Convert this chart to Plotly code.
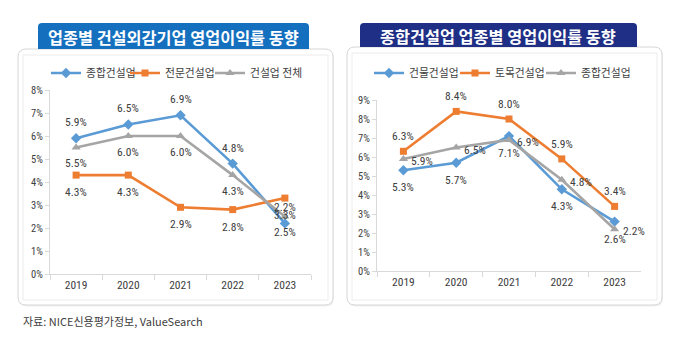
import plotly.graph_objects as go

W, H = 680, 346

years = ["2019", "2020", "2021", "2022", "2023"]

# 업종별 건설외감기업 영업이익률 (%)
general_contractors = [5.9, 6.5, 6.9, 4.8, 2.2]      # 종합건설업
specialty_contractors = [4.3, 4.3, 2.9, 2.8, 3.3]    # 전문건설업
all_construction = [5.5, 6.0, 6.0, 4.3, 2.5]         # 건설업 전체

# 종합건설업 업종별 영업이익률 (%)
building = [5.3, 5.7, 7.1, 4.3, 2.6]                 # 건물건설업
civil = [6.3, 8.4, 8.0, 5.9, 3.4]                    # 토목건설업
general_total = [5.9, 6.5, 6.9, 4.8, 2.2]            # 종합건설업

left_y_ticks = list(range(0, 9))
right_y_ticks = list(range(0, 10))

BLUE = "#5b9bd5"
ORANGE = "#ed7d31"
GRAY = "#a5a5a5"
TXT = "#404040"
KR = "Noto Sans CJK KR"
NUM = "Liberation Sans Narrow, Roboto Condensed, Noto Sans CJK KR, sans-serif"


def px(x):
    return x / W


def py(y):
    return 1 - y / H


def rounded_path(x0, y0, x1, y1, r):
    # rounded rectangle given in pixels, emitted in paper coordinates
    pts = [
        f"M {px(x0 + r)},{py(y0)}",
        f"L {px(x1 - r)},{py(y0)}",
        f"Q {px(x1)},{py(y0)} {px(x1)},{py(y0 + r)}",
        f"L {px(x1)},{py(y1 - r)}",
        f"Q {px(x1)},{py(y1)} {px(x1 - r)},{py(y1)}",
        f"L {px(x0 + r)},{py(y1)}",
        f"Q {px(x0)},{py(y1)} {px(x0)},{py(y1 - r)}",
        f"L {px(x0)},{py(y0 + r)}",
        f"Q {px(x0)},{py(y0)} {px(x0 + r)},{py(y0)}",
        "Z",
    ]
    return " ".join(pts)


def top_rounded_path(x0, y0, x1, y1, r):
    pts = [
        f"M {px(x0)},{py(y1)}",
        f"L {px(x0)},{py(y0 + r)}",
        f"Q {px(x0)},{py(y0)} {px(x0 + r)},{py(y0)}",
        f"L {px(x1 - r)},{py(y0)}",
        f"Q {px(x1)},{py(y0)} {px(x1)},{py(y0 + r)}",
        f"L {px(x1)},{py(y1)}",
        "Z",
    ]
    return " ".join(pts)


fig = go.Figure()
annotations = []
legends = {}

label_font = dict(family=NUM, size=11.5, color=TXT)


def add_series(x_ax, y_ax, legend, legend_x, name, vals, color, symbol, msize, dx, dy):
    fig.add_trace(go.Scatter(
        x=years, y=vals, name=name,
        mode="lines+markers",
        line=dict(color=color, width=2.6),
        marker=dict(symbol=symbol, size=msize, color=color),
        xaxis=x_ax, yaxis=y_ax, legend=legend,
        hoverinfo="skip", cliponaxis=False,
    ))
    legends[legend] = dict(
        x=px(legend_x), y=py(73), xanchor="left", yanchor="middle",
        orientation="h", itemwidth=30, bgcolor="rgba(0,0,0,0)",
        font=dict(family=KR, size=10.8, color=TXT),
    )
    # value labels sit at each point (category index), nudged off the marker
    for i, v in enumerate(vals):
        annotations.append(dict(
            text=f"{v:.1f}%", x=i, y=v, xref=x_ax, yref=y_ax,
            xshift=dx, yshift=dy, showarrow=False,
            xanchor="center", yanchor="middle", font=label_font,
        ))


# left chart
add_series("x", "y", "legend", 46, "종합건설업", general_contractors, BLUE, "diamond", 8, 0, 16)
add_series("x", "y", "legend2", 125, "전문건설업", specialty_contractors, ORANGE, "square", 7, 0, -17)
add_series("x", "y", "legend3", 210, "건설업 전체", all_construction, GRAY, "triangle-up", 8, 0, -16)

# right chart
add_series("x2", "y2", "legend4", 369, "건물건설업", building, BLUE, "diamond", 8, 0, -17)
add_series("x2", "y2", "legend5", 455, "토목건설업", civil, ORANGE, "square", 7, 0, 15)
add_series("x2", "y2", "legend6", 541, "종합건설업", general_total, GRAY, "triangle-up", 8, 19, -2)

axis_line = "#d9d9d9"
xcommon = dict(type="category", range=[-0.5, 4.5], showline=True, linecolor=axis_line,
               linewidth=1, ticks="outside", tickson="boundaries", ticklen=5,
               tickcolor=axis_line, showgrid=False, zeroline=False,
               tickfont=dict(family=NUM, size=11.5, color=TXT), fixedrange=True)
ycommon = dict(showline=True, linecolor=axis_line, linewidth=1, ticks="outside",
               ticklen=4, tickcolor=axis_line, showgrid=False, zeroline=False,
               tickmode="array", tickfont=dict(family=NUM, size=10.5, color=TXT),
               fixedrange=True)

fig.update_layout(
    width=W, height=H,
    margin=dict(l=0, r=0, t=0, b=0, autoexpand=False),
    paper_bgcolor="white",
    plot_bgcolor="rgba(0,0,0,0)",
    xaxis=dict(domain=[px(50), px(311)], anchor="y", **xcommon),
    yaxis=dict(domain=[py(274), py(90)], anchor="x", range=[0, 8],
               tickvals=left_y_ticks, ticktext=[f"{v}%" for v in left_y_ticks], **ycommon),
    xaxis2=dict(domain=[px(377), px(641)], anchor="y2", **xcommon),
    yaxis2=dict(domain=[py(271), py(100)], anchor="x2", range=[0, 9],
                tickvals=right_y_ticks, ticktext=[f"{v}%" for v in right_y_ticks], **ycommon),
    showlegend=True,
    **legends,
)

shapes = []
# panel frames with a soft shadow
for (x0, y0, x1, y1) in [(18, 49, 333, 305), (347, 47, 662, 305)]:
    shapes.append(dict(type="path", xref="paper", yref="paper",
                       path=rounded_path(x0 + 1, y0 + 1, x1 + 1, y1 + 1.5, 8),
                       fillcolor="rgba(0,0,0,0.06)", line=dict(width=0), layer="below"))
    shapes.append(dict(type="path", xref="paper", yref="paper",
                       path=rounded_path(x0, y0, x1, y1, 8),
                       fillcolor="white", line=dict(color="#d6d6d6", width=1), layer="below"))
    shapes.append(dict(type="rect", xref="paper", yref="paper",
                       x0=px(x0 + 5), x1=px(x1 - 5), y0=py(y1 - 5), y1=py(y0 + 6),
                       fillcolor="white", line=dict(color="#ececec", width=1), layer="below"))

# title banners
shapes.append(dict(type="path", xref="paper", yref="paper",
                   path=top_rounded_path(38, 23, 309, 49, 4),
                   fillcolor="#1470bf", line=dict(width=0), layer="above"))
shapes.append(dict(type="path", xref="paper", yref="paper",
                   path=top_rounded_path(360, 23, 637, 47, 4),
                   fillcolor="#1f2f86", line=dict(width=0), layer="above"))

annotations += [
    dict(text="업종별 건설외감기업 영업이익률 동향", x=px(173.5), y=py(36.5),
         xref="paper", yref="paper", showarrow=False, xanchor="center", yanchor="middle",
         font=dict(family=KR, size=16.3, color="white", weight="bold")),
    dict(text="종합건설업 업종별 영업이익률 동향", x=px(498.5), y=py(35.5),
         xref="paper", yref="paper", showarrow=False, xanchor="center", yanchor="middle",
         font=dict(family=KR, size=16.3, color="white", weight="bold")),
    dict(text="자료: NICE신용평가정보, ValueSearch", x=px(21), y=py(321),
         xref="paper", yref="paper", showarrow=False, xanchor="left", yanchor="middle",
         font=dict(family=KR, size=11, color="#404040")),
]

fig.update_layout(shapes=shapes, annotations=annotations)

fig.write_html("out.html")
